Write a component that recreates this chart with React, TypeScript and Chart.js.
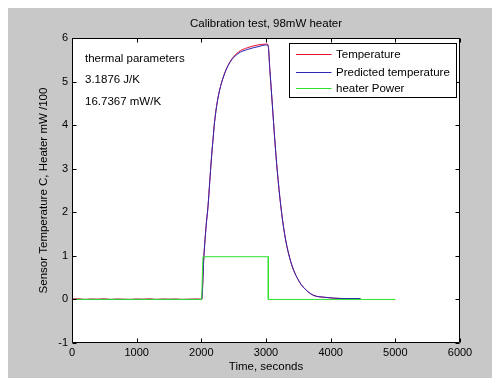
import React, { useEffect, useRef } from "react";
import { Chart, registerables } from "chart.js";

Chart.register(...registerables);

const chartTitle = "Calibration test, 98mW heater";
const xAxisTitle = "Time, seconds";
const yAxisTitle = "Sensor Temperature C, Heater mW /100";
const annotationLines = ["thermal parameters", "3.1876 J/K", "16.7367 mW/K"];
const seriesNames = ["Temperature", "Predicted temperature", "heater Power"];
const seriesColors = ["#e4102c", "#2a26b8", "#2ee02e"];

const xMin = 0;
const xMax = 6000;
const xStep = 1000;
const yMin = -1;
const yMax = 6;
const yStep = 1;

// time (s) for the temperature series
const tempTimes = [
  0, 100, 200, 300, 400, 500, 600, 700, 800, 900, 1000, 1100, 1200, 1300, 1400,
  1500, 1600, 1700, 1800, 1900, 2000, 2005, 2040, 2075, 2103, 2130, 2154, 2180,
  2206, 2257, 2335, 2438, 2567, 2721, 2876, 3005, 3031, 3061, 3098, 3134, 3175,
  3227, 3289, 3382, 3510, 3639, 3742, 3900, 4041, 4250, 4460,
];

const measuredTemp = [
  0.01, 0.015, 0.0, 0.01, 0.005, 0.015, 0.0, 0.01, 0.005, 0.0, 0.01, 0.005, 0.015,
  0.0, 0.01, 0.005, 0.01, 0.0, 0.005, 0.01, 0.005, 0.0, 1.0, 1.7, 2.13, 2.7, 3.2,
  3.66, 4.09, 4.62, 5.08, 5.44, 5.67, 5.78, 5.84, 5.86, 5.85, 5.24, 4.47, 3.7,
  2.94, 2.17, 1.49, 0.87, 0.42, 0.19, 0.09, 0.05, 0.03, 0.02, 0.02,
];

const predictedTemp = [
  0, 0, 0, 0, 0, 0, 0, 0, 0, 0, 0, 0, 0, 0, 0, 0, 0, 0, 0, 0, 0, 0, 1.0, 1.7,
  2.13, 2.7, 3.2, 3.66, 4.09, 4.62, 5.08, 5.43, 5.64, 5.74, 5.8, 5.84, 5.83, 5.24,
  4.47, 3.7, 2.94, 2.17, 1.49, 0.87, 0.42, 0.19, 0.09, 0.05, 0.03, 0.02, 0.02,
];

const heaterTimes = [0, 2005, 2025, 3035, 3036, 5000];
const heaterPower = [0, 0, 0.98, 0.98, 0, 0];

const FONT = "'Liberation Sans', Arial, Helvetica, sans-serif";

const toPoints = (xs: number[], ys: number[]) => xs.map((x, i) => ({ x, y: ys[i] }));

const decorPlugin = {
  id: "matlabDecor",
  beforeDraw(chart: any) {
    const { ctx, chartArea: a, width, height } = chart;
    ctx.save();
    ctx.fillStyle = "#c8c8c8";
    ctx.fillRect(0, 0, width, height);
    ctx.fillStyle = "#ffffff";
    ctx.fillRect(a.left, a.top, a.right - a.left, a.bottom - a.top);
    ctx.restore();
  },
  afterDatasetsDraw(chart: any) {
    const { ctx, chartArea: a, scales } = chart;
    const L = Math.round(a.left) + 0.5;
    const R = Math.round(a.right) - 0.5;
    const T = Math.round(a.top) + 0.5;
    const B = Math.round(a.bottom) - 0.5;
    const tl = 4;
    ctx.save();
    ctx.strokeStyle = "#000";
    ctx.lineWidth = 1;
    ctx.beginPath();
    ctx.rect(L, T, R - L, B - T);
    for (const t of scales.x.ticks) {
      const px = Math.round(scales.x.getPixelForValue(t.value)) + 0.5;
      ctx.moveTo(px, B);
      ctx.lineTo(px, B - tl);
      ctx.moveTo(px, T);
      ctx.lineTo(px, T + tl);
    }
    for (const t of scales.y.ticks) {
      const py = Math.round(scales.y.getPixelForValue(t.value)) + 0.5;
      ctx.moveTo(L, py);
      ctx.lineTo(L + tl, py);
      ctx.moveTo(R, py);
      ctx.lineTo(R - tl, py);
    }
    ctx.stroke();

    // title
    ctx.fillStyle = "#000";
    ctx.font = `11.5px ${FONT}`;
    ctx.textAlign = "center";
    ctx.textBaseline = "middle";
    ctx.fillText(chartTitle, (a.left + a.right) / 2, a.top - 14);

    // annotation text
    ctx.textAlign = "left";
    const annY = [21.3, 42, 63.7];
    annotationLines.forEach((s, i) => ctx.fillText(s, a.left + 13, a.top + annY[i]));

    // legend
    const bx = Math.round(a.right - 171) + 0.5;
    const by = Math.round(a.top + 5) + 0.5;
    const bw = 167;
    const bh = 54;
    ctx.fillStyle = "#fff";
    ctx.fillRect(bx, by, bw, bh);
    ctx.strokeStyle = "#000";
    ctx.strokeRect(bx, by, bw, bh);
    const rowY = [10.3, 28, 44.3];
    chart.data.datasets.forEach((ds: any, i: number) => {
      const y = Math.round(by + rowY[i]) + 0.5;
      ctx.strokeStyle = ds.borderColor;
      ctx.beginPath();
      ctx.moveTo(bx + 6.5, y);
      ctx.lineTo(bx + 42, y);
      ctx.stroke();
      ctx.fillStyle = "#000";
      ctx.fillText(ds.label, bx + 46.5, y);
    });
    ctx.restore();
  },
};

export default function App() {
  const ref = useRef<HTMLCanvasElement | null>(null);

  useEffect(() => {
    if (!ref.current) return;
    const tickFont = { family: FONT, size: 11 };
    const titleFont = { family: FONT, size: 11.5 };
    const chart = new Chart(ref.current, {
      type: "line",
      data: {
        datasets: [
          {
            label: seriesNames[0],
            data: toPoints(tempTimes, measuredTemp),
            borderColor: seriesColors[0],
            borderWidth: 1,
            pointRadius: 0,
            cubicInterpolationMode: "monotone",
            order: 3,
          },
          {
            label: seriesNames[1],
            data: toPoints(tempTimes, predictedTemp),
            borderColor: seriesColors[1],
            borderWidth: 1,
            pointRadius: 0,
            cubicInterpolationMode: "monotone",
            order: 2,
          },
          {
            label: seriesNames[2],
            data: toPoints(heaterTimes, heaterPower),
            borderColor: seriesColors[2],
            borderWidth: 1,
            pointRadius: 0,
            order: 1,
          },
        ],
      },
      options: {
        animation: false,
        responsive: false,
        devicePixelRatio: 1,
        layout: { padding: { top: 30, right: 40, left: 0, bottom: 0 } },
        plugins: {
          legend: { display: false },
          tooltip: { enabled: false },
          title: { display: false },
        },
        scales: {
          x: {
            type: "linear",
            min: xMin,
            max: xMax,
            ticks: {
              stepSize: xStep,
              padding: 3,
              color: "#000",
              font: tickFont,
              maxRotation: 0,
              callback: (v: any) => String(v),
            },
            grid: { display: false, drawTicks: false },
            border: { display: false },
            title: {
              display: true,
              text: xAxisTitle,
              color: "#000",
              font: titleFont,
              padding: { top: 0, bottom: 4 },
            },
            afterFit(s: any) {
              s.height = 35;
              s.paddingLeft = 0;
              s.paddingRight = 0;
            },
          },
          y: {
            type: "linear",
            min: yMin,
            max: yMax,
            ticks: {
              stepSize: yStep,
              padding: 4,
              color: "#000",
              font: tickFont,
              callback: (v: any) => String(v),
            },
            grid: { display: false, drawTicks: false },
            border: { display: false },
            title: {
              display: true,
              text: yAxisTitle,
              color: "#000",
              font: titleFont,
              padding: { top: 29, bottom: 0 },
            },
            afterFit(s: any) {
              s.width = 64;
              s.paddingTop = 0;
              s.paddingBottom = 0;
            },
          },
        },
      },
      plugins: [decorPlugin],
    } as any);
    return () => chart.destroy();
  }, []);

  return (
    <div style={{ width: 492, height: 370 }}>
      <canvas ref={ref} width={492} height={370} style={{ display: "block" }} />
    </div>
  );
}
